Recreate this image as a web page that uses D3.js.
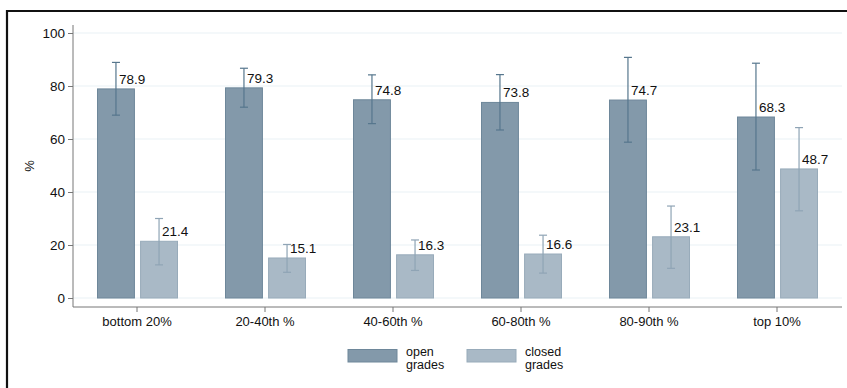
<!DOCTYPE html>
<html>
<head>
<meta charset="utf-8">
<script src="https://cdn.jsdelivr.net/npm/d3@7"></script>
<style>
  html, body { margin: 0; padding: 0; background: #fff; }
  svg { display: block; font-family: "Liberation Sans", Arial, Helvetica, sans-serif; }
</style>
</head>
<body>
<svg id="chart" width="847" height="388"></svg>
<script>
// Share of students by performance group, with 95% confidence intervals
const categories = ["bottom 20%", "20-40th %", "40-60th %", "60-80th %", "80-90th %", "top 10%"];
const seriesNames = [["open", "grades"], ["closed", "grades"]];
const openValues = [78.9, 79.3, 74.8, 73.8, 74.7, 68.3];
const openLow = [69.0, 72.0, 65.8, 63.4, 58.8, 48.3];
const openHigh = [88.9, 86.7, 84.2, 84.3, 90.8, 88.6];
const closedValues = [21.4, 15.1, 16.3, 16.6, 23.1, 48.7];
const closedLow = [12.5, 9.7, 10.4, 9.4, 11.2, 32.9];
const closedHigh = [30.0, 20.2, 21.9, 23.7, 34.7, 64.3];
const yTicks = [0, 20, 40, 60, 80, 100];

const svg = d3.select("#chart");

// outer frame
svg.append("path")
  .attr("d", "M7,388 V11 H847")
  .attr("fill", "none").attr("stroke", "#111").attr("stroke-width", 2.2);

const plot = { left: 73, right: 842, top: 33, zero: 298, axisY: 307 };

const y = d3.scaleLinear().domain([0, 100]).range([plot.zero, plot.top]);
const x = d3.scaleBand().domain(categories)
  .range([73, 841]).paddingInner(0).paddingOuter(0);
const sub = d3.scaleBand().domain([0, 1]).range([-40, 41]).paddingInner(0.12);

const colors = [
  { fill: "#8399aa", stroke: "#6e879a", err: "#56768d" },
  { fill: "#a9b9c6", stroke: "#98abba", err: "#8fa4b5" }
];

// gridlines
svg.append("g").selectAll("line").data(yTicks).join("line")
  .attr("x1", plot.left).attr("x2", plot.right)
  .attr("y1", d => y(d)).attr("y2", d => y(d))
  .attr("stroke", "#eaf1f5").attr("stroke-width", 1.2);

// y axis
const yAxis = svg.append("g").attr("transform", `translate(${plot.left},0)`)
  .call(d3.axisLeft(y).tickValues(yTicks).tickSize(5).tickPadding(3).tickFormat(d3.format("d")));
yAxis.select(".domain").attr("d", `M0,25 V${plot.axisY}`).attr("stroke", "#777");
yAxis.selectAll(".tick line").attr("stroke", "#777");
yAxis.selectAll("text").attr("font-size", 13.5).attr("fill", "#111")
  .attr("font-family", "'Liberation Sans', Arial, sans-serif");

// x axis
const xAxis = svg.append("g").attr("transform", `translate(0,${plot.axisY})`)
  .call(d3.axisBottom(x).tickSize(5).tickPadding(5));
xAxis.select(".domain").attr("d", `M${plot.left},0 H${plot.right}`).attr("stroke", "#777");
xAxis.selectAll(".tick line").attr("stroke", "#777");
xAxis.selectAll("text").attr("font-size", 13).attr("fill", "#111")
  .attr("font-family", "'Liberation Sans', Arial, sans-serif");

// y label
svg.append("text")
  .attr("transform", "translate(34,166) rotate(-90)")
  .attr("text-anchor", "middle").attr("font-size", 13).attr("fill", "#111")
  .text("%");

const series = [
  { v: openValues, lo: openLow, hi: openHigh },
  { v: closedValues, lo: closedLow, hi: closedHigh }
];

series.forEach((s, si) => {
  const g = svg.append("g");
  const c = colors[si];
  const cx = (cat) => x(cat) + x.bandwidth() / 2 + sub(si);
  // bars
  g.selectAll("rect").data(categories).join("rect")
    .attr("x", d => cx(d) + 0.5)
    .attr("y", (d, i) => y(s.v[i]))
    .attr("width", sub.bandwidth() - 1)
    .attr("height", (d, i) => y(0) - y(s.v[i]))
    .attr("fill", c.fill).attr("stroke", c.stroke).attr("stroke-width", 1);
  // error bars
  const mid = d => cx(d) + sub.bandwidth() / 2;
  g.selectAll("line.err").data(categories).join("line").attr("class", "err")
    .attr("x1", mid).attr("x2", mid)
    .attr("y1", (d, i) => y(s.lo[i])).attr("y2", (d, i) => y(s.hi[i]))
    .attr("stroke", c.err).attr("stroke-width", 1.2);
  ["lo", "hi"].forEach(k => {
    g.selectAll("line.cap" + k).data(categories).join("line").attr("class", "cap" + k)
      .attr("x1", d => mid(d) - 4).attr("x2", d => mid(d) + 4)
      .attr("y1", (d, i) => y(s[k][i])).attr("y2", (d, i) => y(s[k][i]))
      .attr("stroke", c.err).attr("stroke-width", 1.2);
  });
  // value labels
  g.selectAll("text").data(categories).join("text")
    .attr("x", d => mid(d) + 3)
    .attr("y", (d, i) => y(s.v[i]) - 5)
    .attr("font-size", 13.5).attr("fill", "#111")
    .text((d, i) => s.v[i].toFixed(1));
});

// legend
const legend = svg.append("g");
const legendX = [348, 467];
seriesNames.forEach((lines, i) => {
  legend.append("rect")
    .attr("x", legendX[i]).attr("y", 349.5).attr("width", 49).attr("height", 12.5)
    .attr("fill", colors[i].fill).attr("stroke", colors[i].stroke);
  lines.forEach((line, j) => {
    legend.append("text")
      .attr("x", legendX[i] + 58).attr("y", 355.5 + j * 13)
      .attr("font-size", 12.5).attr("fill", "#111")
      .text(line);
  });
});
</script>
</body>
</html>
